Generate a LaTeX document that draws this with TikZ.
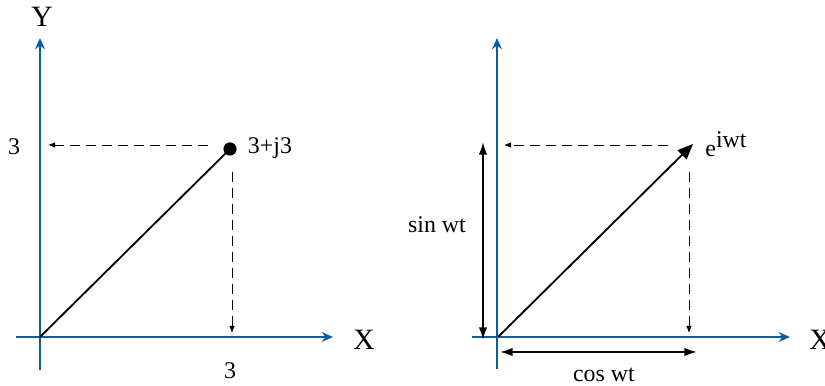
\documentclass[tikz,border=0pt]{standalone}
\usepackage{fontspec}
\setmainfont{Liberation Serif}
\usetikzlibrary{arrows.meta}

\begin{document}
\begin{tikzpicture}[
    axis/.style={draw=axisblue, line width=1.3pt, -{Stealth[length=8pt, width=7pt]}},
    vec/.style={line width=1.3pt},
    proj/.style={line width=0.6pt, dash pattern=on 0.26cm off 0.14cm, -{Latex[length=5pt, width=4pt]}},
    span/.style={line width=1.3pt, {Latex[length=9pt, width=6pt]}-{Latex[length=9pt, width=6pt]}},
    lbl/.style={inner sep=0pt, font=\rmfamily\fontsize{17}{19}\selectfont},
    axlbl/.style={inner sep=0pt, font=\rmfamily\fontsize{21}{23}\selectfont}
  ]
  % Define the custom color
  \definecolor{axisblue}{RGB}{10,95,160}

  \useasboundingbox (0,0) rectangle (20.625,9.65);

  % left picture
  \coordinate (o1) at (1.0,1.225);
  \coordinate (y1bot) at (1.0,0.4);
  \coordinate (y1top) at (1.0,8.7);
  \coordinate (x1lft) at (0.4,1.225);
  \coordinate (x1rgt) at (8.325,1.225);
  \draw[axis] (y1bot) -- (y1top);
  \draw[axis] (x1lft) -- (x1rgt);
  \node[axlbl] (ylab) at (1.05,9.225) {Y};
  \node[axlbl] (xlab1) at (9.1,1.15) {X};

  \node[circle, fill=black, inner sep=0pt, minimum size=0.33cm] (pt) at (5.75,5.925) {};
  \draw[vec] (o1) -- (pt.center);
  \node[lbl] (ptlab) at (6.75,5.95) {3+j3};
  \node[lbl] (re1) at (5.75,0.39) {3};
  \node[lbl] (im1) at (0.35,5.975) {3};

  \coordinate (h1a) at (5.2,6.025);
  \coordinate (h1b) at (1.2,6.025);
  \coordinate (v1a) at (5.8,5.35);
  \coordinate (v1b) at (5.8,1.325);
  \draw[proj] (h1a) -- (h1b);
  \draw[proj] (v1a) -- (v1b);

  % right picture
  \coordinate (o2) at (12.45,1.225);
  \coordinate (y2bot) at (12.425,0.425);
  \coordinate (y2top) at (12.425,8.7);
  \coordinate (x2lft) at (11.8,1.225);
  \coordinate (x2rgt) at (19.75,1.225);
  \draw[axis] (y2bot) -- (y2top);
  \draw[axis] (x2lft) -- (x2rgt);
  \node[axlbl] (xlab2) at (20.5,1.15) {X};

  \coordinate (tip) at (17.325,6.05);
  \draw[vec, -{Triangle[length=11pt, width=9pt]}] (o2) -- (tip);
  \node[lbl] (elab) at (18.15,6.05) {e\raisebox{0.4em}{iwt}};

  \coordinate (h2a) at (16.7,6.025);
  \coordinate (h2b) at (12.6,6.025);
  \coordinate (v2a) at (17.225,5.35);
  \coordinate (v2b) at (17.225,1.325);
  \draw[proj] (h2a) -- (h2b);
  \draw[proj] (v2a) -- (v2b);

  \coordinate (s2top) at (12.075,6.1);
  \coordinate (s2bot) at (12.075,1.15);
  \draw[span] (s2bot) -- (s2top);
  \node[lbl] (sinlab) at (10.925,4.025) {sin wt};

  \coordinate (c2lft) at (12.5,0.85);
  \coordinate (c2rgt) at (17.425,0.85);
  \draw[span] (c2lft) -- (c2rgt);
  \node[lbl] (coslab) at (15.1,0.27) {cos wt};

\end{tikzpicture}
\end{document}
